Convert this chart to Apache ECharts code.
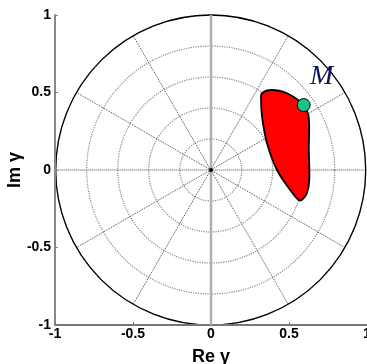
<!DOCTYPE html>
<html><head><meta charset="utf-8">
<script src="https://cdn.jsdelivr.net/npm/echarts@6/dist/echarts.min.js"></script>
<style>html,body{margin:0;padding:0;background:#fff}#c{width:367px;height:364px}</style>
</head><body><div id="c"></div>
<script>
// Axis ticks
const xTicks = [-1, -0.5, 0, 0.5, 1];
const yTicks = [-1, -0.5, 0, 0.5, 1];
// Region outline (Re, Im)
const regionRe = [0.327, 0.391, 0.487, 0.560, 0.594, 0.626, 0.627, 0.630, 0.615, 0.585, 0.562, 0.508, 0.423, 0.359, 0.327, 0.321];
const regionIm = [0.495, 0.516, 0.495, 0.450, 0.419, 0.344, 0.129, -0.065, -0.150, -0.190, -0.194, -0.129, 0.000, 0.172, 0.344, 0.452];
// Point M
const pointRe = [0.594];
const pointIm = [0.419];
const labelName = ['M'];
const labelRe = [0.71];
const labelIm = [0.60];

const regionData = regionRe.map((r, i) => [r, regionIm[i]]);
const font = 'Liberation Sans, Arial, sans-serif';
const chart = echarts.init(document.getElementById('c'));
chart.setOption({
  animation: false,
  backgroundColor: '#fff',
  grid: {left: 55, right: 0, top: 15, bottom: 39, outerBoundsMode: 'none', containLabel: false},
  polar: {center: [210.7, 170], radius: 155},
  angleAxis: {
    type: 'value', min: 0, max: 360, interval: 30, startAngle: 0, z: 0,
    axisLine: {show: true, lineStyle: {color: '#000', width: 1.3}},
    axisTick: {show: false}, axisLabel: {show: false},
    splitLine: {show: true, lineStyle: {type: 'dotted', color: '#444', width: 1}}
  },
  radiusAxis: {
    type: 'value', min: 0, max: 1, interval: 0.2, z: 0,
    axisLine: {show: false}, axisTick: {show: false}, axisLabel: {show: false},
    splitLine: {show: true, lineStyle: {type: 'dotted', color: '#888', width: 1.2}}
  },
  xAxis: {
    type: 'value', min: -1, max: 1, interval: 0.5,
    name: 'Re γ', nameLocation: 'middle', nameGap: 23, nameMoveOverlap: false,
    nameTextStyle: {fontFamily: font, fontWeight: 'bold', fontSize: 18, color: '#000'},
    axisLine: {show: true, onZero: false, lineStyle: {color: '#777', width: 2}},
    axisTick: {show: true, inside: true, length: 3, lineStyle: {color: '#777'}},
    axisLabel: {fontFamily: font, fontWeight: 'bold', fontSize: 14, color: '#000', margin: 2,
      formatter: v => xTicks.includes(v) ? String(v) : ''},
    splitLine: {show: false}
  },
  yAxis: {
    type: 'value', min: -1, max: 1, interval: 0.5,
    name: 'Im γ', nameLocation: 'middle', nameGap: 31, nameMoveOverlap: false,
    nameTextStyle: {fontFamily: font, fontWeight: 'bold', fontSize: 18, color: '#000'},
    axisLine: {show: true, onZero: false, lineStyle: {color: '#888', width: 2}},
    axisTick: {show: true, inside: true, length: 3, lineStyle: {color: '#888'}},
    axisLabel: {fontFamily: font, fontWeight: 'bold', fontSize: 14, color: '#000', margin: 4,
      formatter: v => yTicks.includes(v) ? String(v) : ''},
    splitLine: {show: false}
  },
  series: [
    {
      type: 'line', data: [[0, -1], [0, 1]], symbol: 'none', z: 3,
      lineStyle: {color: '#b0b0b0', width: 2.5}
    },
    {
      type: 'custom', z: 4,
      renderItem: function (params, api) {
        const pts = regionData.map(p => api.coord(p));
        return {type: 'polygon', shape: {points: pts, smooth: 0.35},
          style: {fill: '#ff0000', stroke: '#000', lineWidth: 1.8}};
      },
      data: [[0, 0]]
    },
    {
      type: 'scatter', z: 5, data: pointRe.map((r, i) => [r, pointIm[i]]),
      symbol: 'circle', symbolSize: 13,
      itemStyle: {color: '#1fc08c', borderColor: '#000', borderWidth: 1, opacity: 1}
    },
    {
      type: 'scatter', z: 5, data: labelRe.map((r, i) => ({value: [r, labelIm[i]], name: labelName[i]})),
      symbolSize: 0, itemStyle: {opacity: 1},
      label: {show: true, position: 'inside', formatter: p => p.name,
        fontFamily: 'Liberation Serif, DejaVu Serif, serif', fontStyle: 'italic', fontSize: 28, color: '#12125e'}
    },
    {
      type: 'scatter', z: 4, data: [[0, 0]], symbolSize: 4, itemStyle: {color: '#000', opacity: 1}
    }
  ]
});
</script></body></html>
